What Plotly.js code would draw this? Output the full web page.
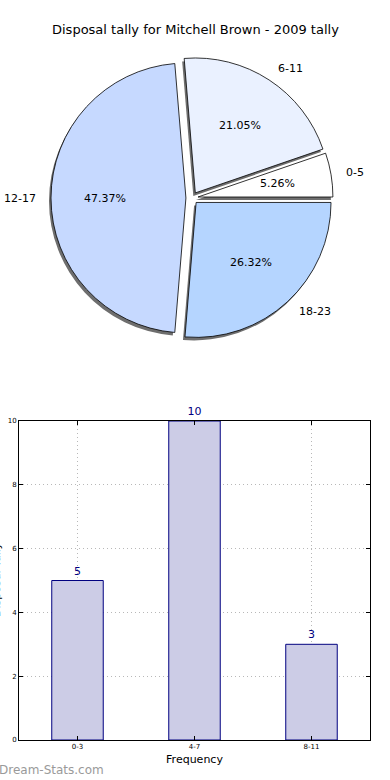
<!DOCTYPE html>
<html>
<head>
<meta charset="utf-8">
<script src="https://cdn.plot.ly/plotly-3.0.1.min.js"></script>
<style>html,body{margin:0;padding:0;background:#fff;}#chart{width:390px;height:780px;}</style>
</head>
<body>
<div id="chart"></div>
<script>
// ---- data ----
const pieLabels = ['0-5', '6-11', '12-17', '18-23'];
const pieValues = [1, 4, 9, 5];
const barCategories = ['0-3', '4-7', '8-11'];
const barValues = [5, 10, 3];
const chartTitle = 'Disposal tally for Mitchell Brown - 2009 tally';
const barXTitle = 'Frequency';
const barYTitle = 'Disposal Tally';
const watermark = 'Dream-Stats.com';

// ---- styles ----
const W = 390, H = 780;
const FONT = 'DejaVu Sans, Verdana, sans-serif';
const pieColors = ['#ffffff', '#eaf1ff', '#c6d9ff', '#b5d5ff'];
const PULL = 0.045;
const px = x => x / W;
const py = y => 1 - y / H;

// pie geometry (pixels)
const cx = 192, cy = 198, half = 141;
const pieDomain = {x: [px(cx - half), px(cx + half)], y: [py(cy + half), py(cy - half)]};
const shadowDomain = {x: [px(cx - half - 2), px(cx + half - 2)], y: [py(cy + half + 3), py(cy - half + 3)]};
const R = half / (1 + PULL);

const total = pieValues.reduce((a, b) => a + b, 0);
// first slice starts at 3 o'clock and runs counter-clockwise
const rotation = 90 - 360 * pieValues[0] / total;

const annotations = [];
let cum = 0;
pieValues.forEach((v, i) => {
  const frac = v / total;
  const mid = (cum + frac / 2) * 2 * Math.PI;
  cum += frac;
  const ox = cx + PULL * R * Math.cos(mid);
  const oy = cy - PULL * R * Math.sin(mid);
  annotations.push({
    x: px(ox + 0.6 * R * Math.cos(mid)), y: py(oy - 0.6 * R * Math.sin(mid)),
    xref: 'paper', yref: 'paper', showarrow: false,
    text: (frac * 100).toFixed(2) + '%',
    font: {family: FONT, size: 11, color: '#000'}, xanchor: 'center', yanchor: 'middle'
  });
  const lx = ox + 1.1 * R * Math.cos(mid);
  const ly = oy - 1.1 * R * Math.sin(mid);
  annotations.push({
    x: px(lx), y: py(ly), xref: 'paper', yref: 'paper', showarrow: false,
    text: pieLabels[i],
    font: {family: FONT, size: 11, color: '#000'},
    xanchor: Math.cos(mid) >= 0 ? 'left' : 'right', yanchor: 'middle'
  });
});

annotations.push({
  x: 0.5, y: py(30), xref: 'paper', yref: 'paper', showarrow: false,
  text: chartTitle, font: {family: FONT, size: 13, color: '#000'}, xanchor: 'center', yanchor: 'middle'
});
annotations.push({
  x: 0, y: py(770), xref: 'paper', yref: 'paper', showarrow: false,
  text: watermark, font: {family: FONT, size: 12, color: '#9a9a9a'}, xanchor: 'left', yanchor: 'middle', xshift: -3
});
annotations.push({
  x: 0, y: py(580), xref: 'paper', yref: 'paper', showarrow: false,
  text: barYTitle, textangle: -90, font: {family: FONT, size: 11, color: '#000'}, xanchor: 'center', yanchor: 'middle', xshift: -4
});

const shadow = {
  type: 'pie', values: pieValues, labels: pieLabels, sort: false, direction: 'counterclockwise', rotation: rotation,
  pull: pieValues.map(() => PULL), marker: {colors: pieValues.map(() => '#6e6e6e'), line: {width: 0}},
  textinfo: 'none', hoverinfo: 'skip', showlegend: false, domain: shadowDomain
};
const pie = {
  type: 'pie', values: pieValues, labels: pieLabels, sort: false, direction: 'counterclockwise', rotation: rotation,
  pull: pieValues.map(() => PULL), marker: {colors: pieColors, line: {color: '#000', width: 0.8}},
  textinfo: 'none', hoverinfo: 'label+percent', showlegend: false, domain: pieDomain
};
const bars = {
  type: 'bar', x: barCategories, y: barValues, width: 0.44,
  marker: {color: '#ccccE6', line: {color: '#000080', width: 1}},
  text: barValues.map(String), textposition: 'outside', cliponaxis: false,
  textfont: {family: FONT, size: 11, color: '#000080'},
  xaxis: 'x', yaxis: 'y', showlegend: false
};

const axisCommon = {
  showline: true, mirror: 'allticks', linecolor: '#000', linewidth: 1,
  ticks: 'inside', ticklen: 4, tickcolor: '#000',
  showgrid: true, gridcolor: '#b8b8b8', griddash: '1px,3px', gridwidth: 1,
  zeroline: false, tickfont: {family: FONT, size: 7, color: '#000'}
};

const layout = {
  width: W, height: H, margin: {l: 0, r: 0, t: 0, b: 0},
  paper_bgcolor: '#fff', plot_bgcolor: '#fff',
  font: {family: FONT},
  xaxis: Object.assign({}, axisCommon, {
    domain: [px(19), px(370)], range: [-0.5, 2.5], type: 'category',
    title: {text: barXTitle, font: {family: FONT, size: 11, color: '#000'}, standoff: 4}
  }),
  yaxis: Object.assign({}, axisCommon, {
    domain: [py(740), py(421)], range: [0, 10], dtick: 2, tickformat: 'd'
  }),
  annotations: annotations
};

Plotly.newPlot('chart', [shadow, pie, bars], layout, {staticPlot: true, displayModeBar: false});
</script>
</body>
</html>
